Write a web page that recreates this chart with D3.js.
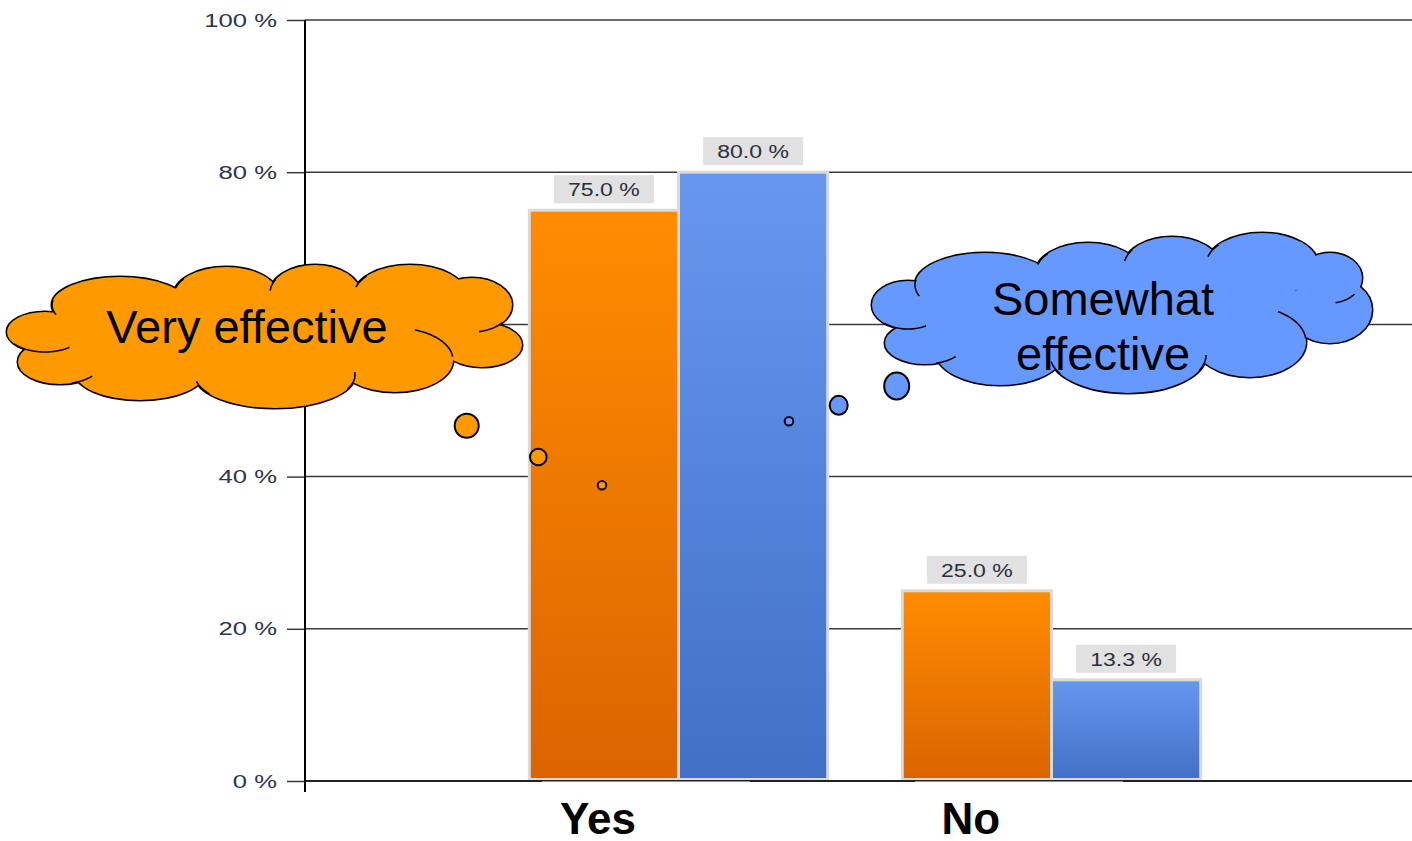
<!DOCTYPE html>
<html lang="en">
<head>
<meta charset="UTF-8">
<title>Effectiveness</title>
<script src="https://d3js.org/d3.v7.min.js"></script>
<style>
    body { margin: 0; background: #fff; }
    svg { display: block; font-family: "Liberation Sans", Arial, sans-serif; }
</style>
</head>
<body>
<div id="chart"></div>
<script>
const categories = ["Yes", "No"];
const seriesNames = ["Very effective", "Somewhat effective"];
const veryEffective = [75.0, 25.0];
const somewhatEffective = [80.0, 13.3];
const yTicks = [0, 20, 40, 60, 80, 100];
const seriesValues = [veryEffective, somewhatEffective];

const width = 1412, height = 841;
const axisX = 305;

const svg = d3.select("#chart").append("svg")
    .attr("width", width)
    .attr("height", height);

const y = d3.scaleLinear().domain([0, 100]).range([781, 20]);
const x = d3.scaleBand().domain(categories).range([492, 1238])
    .paddingInner(0.2).paddingOuter(0.1);
const xs = d3.scaleBand().domain(seriesNames).range([0, x.bandwidth()]);

// bar gradients
const defs = svg.append("defs");
const gradColors = [["#ff8c00", "#db6400"], ["#6797ef", "#4170c6"]];
seriesNames.forEach((s, i) => {
    const g = defs.append("linearGradient").attr("id", "grad" + i)
        .attr("x1", 0).attr("y1", 0).attr("x2", 0).attr("y2", 1);
    g.append("stop").attr("offset", "0%").attr("stop-color", gradColors[i][0]);
    g.append("stop").attr("offset", "100%").attr("stop-color", gradColors[i][1]);
});

// gridlines
svg.append("g").selectAll("line").data(yTicks.filter(d => d > 0)).join("line")
    .attr("x1", axisX).attr("x2", width)
    .attr("y1", d => y(d)).attr("y2", d => y(d))
    .attr("stroke", "#3a3a3a").attr("stroke-width", 1.5);

// bars
const bars = [];
categories.forEach((c, ci) => seriesNames.forEach((s, si) => {
    bars.push({ c: c, s: s, si: si, v: seriesValues[si][ci] });
}));

svg.append("g").selectAll("rect").data(bars).join("rect")
    .attr("x", d => x(d.c) + xs(d.s))
    .attr("y", d => y(d.v))
    .attr("width", xs.bandwidth())
    .attr("height", d => y(0) - 1.5 - y(d.v))
    .attr("fill", d => `url(#grad${d.si})`)
    .attr("stroke", "#dadada").attr("stroke-width", 3);

// baseline
svg.append("line")
    .attr("x1", axisX).attr("x2", width)
    .attr("y1", y(0)).attr("y2", y(0))
    .attr("stroke", "#222").attr("stroke-width", 2);

// y axis
const yAxis = svg.append("g")
    .attr("transform", `translate(${axisX},0)`)
    .call(d3.axisLeft(y).tickValues(yTicks).tickSize(18).tickPadding(10)
        .tickFormat(d => d + " %"));
yAxis.attr("font-family", "Liberation Sans, Arial, sans-serif")
    .attr("font-size", 19);
yAxis.select(".domain").remove();
yAxis.selectAll(".tick line").attr("stroke", "#3a3a3a").attr("stroke-width", 1.5);
yAxis.selectAll(".tick text")
    .attr("fill", "#2b3550")
    .attr("x", 0)
    .attr("transform", "translate(-28,0) scale(1.35,1)");

svg.append("line")
    .attr("x1", axisX).attr("x2", axisX)
    .attr("y1", y(100)).attr("y2", y(0) + 11)
    .attr("stroke", "#000").attr("stroke-width", 2);

// category labels with their white text boxes
const labelX = c => x(c) + x.bandwidth() * 0.23;
svg.append("g").selectAll("rect").data(categories).join("rect")
    .attr("x", d => labelX(d) - 56)
    .attr("y", y(0) + 0.5)
    .attr("width", 208).attr("height", 60)
    .attr("fill", "#fff");

svg.append("g").selectAll("text").data(categories).join("text")
    .attr("x", d => labelX(d))
    .attr("y", 834)
    .attr("text-anchor", "middle")
    .attr("font-size", 44).attr("font-weight", "bold")
    .attr("fill", "#000")
    .text(d => d);

// value labels
const fmt = d3.format(".1f");
const lab = svg.append("g").selectAll("g").data(bars).join("g")
    .attr("transform", d => `translate(${x(d.c) + xs(d.s) + xs.bandwidth() / 2},${y(d.v) - 7})`);
lab.append("rect")
    .attr("x", -50).attr("y", -28)
    .attr("width", 100).attr("height", 28)
    .attr("fill", "#e1e1e1");
lab.append("text")
    .attr("transform", "translate(0,-7) scale(1.28,1)")
    .attr("text-anchor", "middle")
    .attr("font-size", 18)
    .attr("fill", "#2a3040")
    .text(d => fmt(d.v) + " %");

// thought clouds: lobes are [cx, cy, rx, ry]
function arcPath(l, a0, a1) {
    const pts = d3.range(a0, a1 + 0.1, 2).map(a => [
        l[0] + l[2] * Math.cos(a * Math.PI / 180),
        l[1] + l[3] * Math.sin(a * Math.PI / 180)
    ]);
    return d3.line()(pts);
}

function drawCloud(cloud) {
    const g = svg.append("g");
    g.selectAll(".out").data(cloud.lobes).join("ellipse")
        .attr("cx", d => d[0]).attr("cy", d => d[1])
        .attr("rx", d => d[2]).attr("ry", d => d[3])
        .attr("fill", cloud.fill).attr("stroke", "#000").attr("stroke-width", 3);
    g.selectAll(".in").data(cloud.lobes.concat([cloud.core])).join("ellipse")
        .attr("cx", d => d[0]).attr("cy", d => d[1])
        .attr("rx", d => d[2]).attr("ry", d => d[3])
        .attr("fill", cloud.fill);
    g.selectAll("path").data(cloud.creases).join("path")
        .attr("d", d => arcPath(cloud.lobes[d[0]], d[1], d[2]))
        .attr("fill", "none").attr("stroke", "#000").attr("stroke-width", 1.6);
    g.selectAll(".bub").data(cloud.bubbles).join("ellipse")
        .attr("cx", d => d[0]).attr("cy", d => d[1])
        .attr("rx", d => d[2]).attr("ry", d => d[3])
        .attr("fill", cloud.fill).attr("stroke", "#000").attr("stroke-width", 2);
    g.selectAll("text").data(cloud.lines).join("text")
        .attr("x", d => d[1]).attr("y", d => d[2])
        .attr("text-anchor", "middle")
        .attr("font-size", 47).attr("fill", "#000")
        .text(d => d[0]);
}

const orangeCloud = {
    fill: "#ff9900",
    lobes: [
        [120, 305, 68, 28], [226, 295, 52, 28], [315, 293, 45, 28], [410, 295, 56, 30],
        [472, 305, 40, 27], [482, 345, 40, 22], [395, 360, 58, 32], [275, 375, 80, 33],
        [140, 372, 65, 28], [60, 362, 42, 22], [45, 332, 38, 20]
    ],
    core: [265, 335, 210, 50],
    creases: [
        [0, 160, 190], [1, 195, 215], [2, 185, 210], [3, 195, 220],
        [4, 40, 80], [6, 290, 355], [7, 355, 385], [7, 145, 170], [9, 40, 75], [10, 50, 145]
    ],
    bubbles: [[466.7, 425.7, 12, 12], [538.3, 457, 8.3, 8.3], [602, 485.3, 4.3, 4.3]],
    lines: [["Very effective", 247, 343]]
};

const blueCloud = {
    fill: "#6699ff",
    lobes: [
        [985, 285, 70, 32], [1088, 272, 52, 29], [1172, 266, 48, 29], [1262, 265, 56, 32],
        [1330, 278, 32, 25], [1330, 310, 42, 33], [1250, 342, 56, 35], [1128, 355, 78, 38],
        [1000, 352, 64, 33], [925, 343, 40, 21], [908, 305, 36, 24]
    ],
    core: [1120, 315, 200, 50],
    creases: [
        [0, 160, 190], [1, 195, 220], [2, 190, 215], [3, 195, 220],
        [4, 40, 80], [6, 300, 355], [7, 0, 25], [7, 150, 170], [9, 40, 75], [10, 60, 130]
    ],
    bubbles: [[789, 421.3, 4.3, 4.3], [838.7, 405.3, 9, 9.5], [896.7, 386, 12.5, 13.5]],
    lines: [["Somewhat", 1103, 315], ["effective", 1103, 370]]
};

drawCloud(orangeCloud);
drawCloud(blueCloud);
</script>
</body>
</html>
